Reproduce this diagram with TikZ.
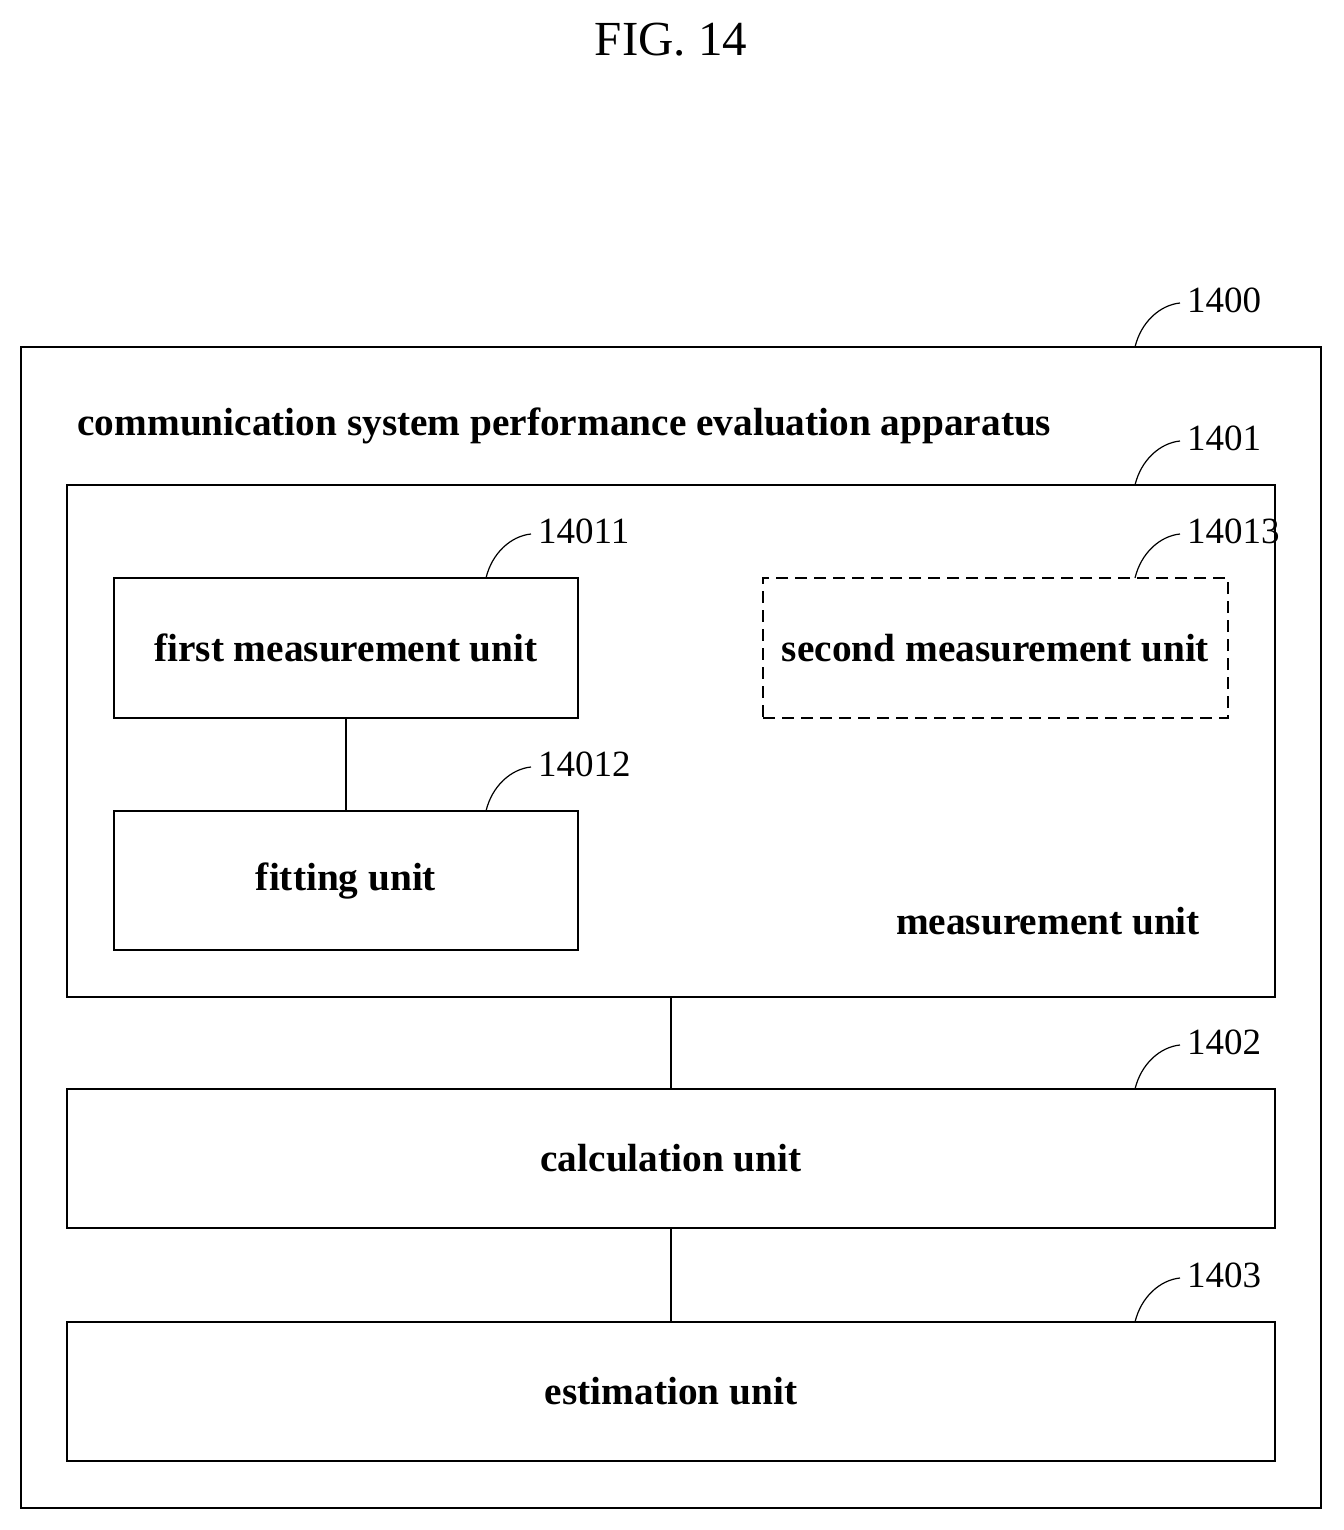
\documentclass[tikz,border=0pt]{standalone}
\usepackage{fontspec}
\setmainfont{Liberation Serif}
\begin{document}
\begin{tikzpicture}[x=1pt,y=-1pt,
 box/.style={draw,line width=1.3pt},
 lbl/.style={font=\fontsize{39.3}{41}\selectfont\bfseries},
 num/.style={anchor=west,font=\fontsize{37}{40}\selectfont,inner sep=0pt},
 lead/.style={line width=1.2pt}]
\useasboundingbox (0,0) rectangle (1343,1530);
\node[font=\fontsize{49}{50}\selectfont] (fig) at (671,40) {FIG. 14};
\draw[box] (21,347) rectangle (1321,1508);
\node[lbl,anchor=west] (t0) at (74,426) {communication system performance evaluation apparatus};
\draw[box] (67,485) rectangle (1275,997);
\node[lbl] (mu) at (1048,921) {measurement unit};
\node[box,lbl,minimum width=464pt,minimum height=140pt] (a) at (346,648) {first measurement unit};
\node[box,lbl,minimum width=464pt,minimum height=139pt] (b) at (346,880.5) {fitting unit};
\node[box,dashed,dash pattern=on 12pt off 7pt,lbl,minimum width=465pt,minimum height=140pt] (c) at (995.5,648) {second measurement unit};
\node[box,lbl,minimum width=1208pt,minimum height=139pt] (d) at (671,1158.5) {calculation unit};
\node[box,lbl,minimum width=1208pt,minimum height=139pt] (e) at (671,1391.5) {estimation unit};
\coordinate (mb) at (671,997);
\draw[lead] (a.south) -- (b.north);
\draw[lead] (mb) -- (d.north);
\draw[lead] (d.south) -- (e.north);
\foreach \x/\y/\t/\n in {1135/347/1400/n0,1135/485/1401/n1,486/578/14011/n2,486/811/14012/n3,1135/578/14013/n4,1135/1089/1402/n5,1135/1322/1403/n6}{
 \coordinate (s\n) at (\x,\y);
 \node[num] (\n) at (\x+52,\y-47) {\t};
 \draw[lead] (s\n) .. controls (\x+6,\y-25) and (\x+25,\y-42) .. (\x+45,\y-44);
}
\end{tikzpicture}
\end{document}
